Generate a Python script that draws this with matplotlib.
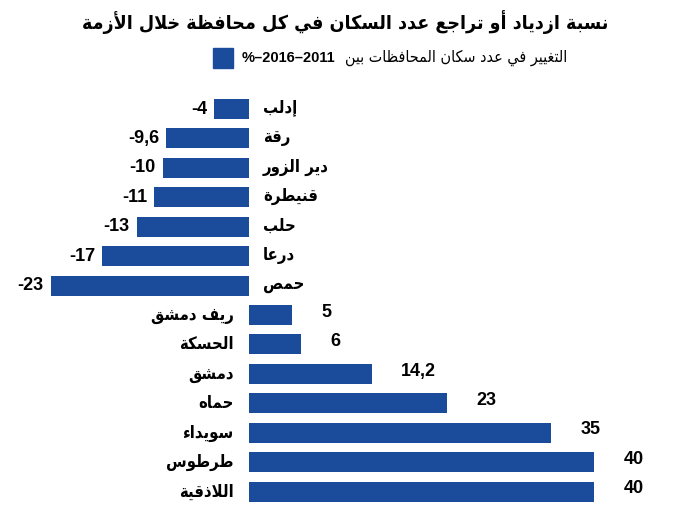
import matplotlib
matplotlib.use('Agg')
import matplotlib.pyplot as plt

# data
provinces = ['إدلب', 'رقة', 'دير الزور', 'قنيطرة', 'حلب', 'درعا', 'حمص',
             'ريف دمشق', 'الحسكة', 'دمشق', 'حماه', 'سويداء', 'طرطوس', 'اللاذقية']
change = [-4, -9.6, -10, -11, -13, -17, -23, 5, 6, 14.2, 23, 35, 40, 40]
value_labels = ['-4', '-9,6', '-10', '-11', '-13', '-17', '-23',
                '5', '6', '14,2', '23', '35', '40', '40']
title = 'نسبة ازدياد أو تراجع عدد السكان في كل محافظة خلال الأزمة'
legend_text = 'التغيير في عدد سكان المحافظات بين'
legend_years = '%–2016–2011'

# minimal arabic shaping (no arabic_reshaper / bidi available)
FOUR = {'ب': 0xFE8F, 'ت': 0xFE95, 'ث': 0xFE99, 'ج': 0xFE9D, 'ح': 0xFEA1,
        'خ': 0xFEA5, 'س': 0xFEB1, 'ش': 0xFEB5, 'ص': 0xFEB9, 'ض': 0xFEBD,
        'ط': 0xFEC1, 'ظ': 0xFEC5, 'ع': 0xFEC9, 'غ': 0xFECD, 'ف': 0xFED1,
        'ق': 0xFED5, 'ك': 0xFED9, 'ل': 0xFEDD, 'م': 0xFEE1, 'ن': 0xFEE5,
        'ه': 0xFEE9, 'ي': 0xFEF1}
TWO = {'ا': 0xFE8D, 'أ': 0xFE83, 'إ': 0xFE87, 'آ': 0xFE81, 'ة': 0xFE93,
       'د': 0xFEA9, 'ذ': 0xFEAB, 'ر': 0xFEAD, 'ز': 0xFEAF, 'و': 0xFEED,
       'ى': 0xFEEF}
ONE = {'ء': 0xFE80}
LAM_ALEF = {'آ': 0xFEF5, 'أ': 0xFEF7, 'إ': 0xFEF9, 'ا': 0xFEFB}


def is_letter(c):
    return c in FOUR or c in TWO or c in ONE


def shape(text):
    # merge lam-alef first
    chars = []
    i = 0
    while i < len(text):
        c = text[i]
        if c == 'ل' and i + 1 < len(text) and text[i + 1] in LAM_ALEF:
            chars.append(('LA', text[i + 1]))
            i += 2
        else:
            chars.append((c, None))
            i += 1

    def is_ar(item):
        return item[0] == 'LA' or is_letter(item[0])

    out = []
    for k, (c, extra) in enumerate(chars):
        prev_join = k > 0 and chars[k - 1][0] in FOUR
        next_ar = k + 1 < len(chars) and is_ar(chars[k + 1])
        if c == 'LA':
            out.append(chr(LAM_ALEF[extra] + (1 if prev_join else 0)))
        elif c in FOUR:
            base = FOUR[c]
            if prev_join and next_ar:
                out.append(chr(base + 3))
            elif prev_join:
                out.append(chr(base + 1))
            elif next_ar:
                out.append(chr(base + 2))
            else:
                out.append(chr(base))
        elif c in TWO:
            out.append(chr(TWO[c] + (1 if prev_join else 0)))
        elif c in ONE:
            out.append(chr(ONE[c]))
        else:
            out.append(c)
    return ''.join(reversed(out))


bar_color = '#1b4b9b'
ar_font = ['DejaVu Sans']
num_font = ['Liberation Sans Narrow', 'Liberation Sans', 'DejaVu Sans']

fig = plt.figure(figsize=(6.84, 5.26), dpi=100)
ax = fig.add_axes([0.00446, 0.0376, 0.9778, 0.783])

ypos = list(range(len(provinces)))
ax.barh(ypos, change, height=0.68, color=bar_color)
ax.set_xlim(-28.5, 49)
ax.set_ylim(13.5, -0.5)
ax.axis('off')

for i, (name, val, lab) in enumerate(zip(provinces, change, value_labels)):
    if val < 0:
        ax.annotate(shape(name), xy=(0, i), xytext=(10, 1), textcoords='offset points',
                    ha='left', va='center', fontsize=12, fontweight='heavy',
                    fontstretch='condensed', family=ar_font)
        ax.annotate(lab, xy=(val, i), xytext=(-5, 0), textcoords='offset points',
                    ha='right', va='center', fontsize=13, fontweight='bold', family=num_font)
    else:
        ax.annotate(shape(name), xy=(0, i), xytext=(-11, 0), textcoords='offset points',
                    ha='right', va='center', fontsize=12, fontweight='heavy',
                    fontstretch='condensed', family=ar_font)
        ax.annotate(lab, xy=(val, i), xytext=(21, 2), textcoords='offset points',
                    ha='left', va='center', fontsize=13, fontweight='bold', family=num_font)

fig.text(345 / 684, 1 - 22 / 526, shape(title), ha='center', va='center',
         fontsize=14, fontweight='heavy', fontstretch='condensed', family=ar_font)

# legend
fig.patches.append(plt.Rectangle((213 / 684, 1 - 68 / 526), 20 / 684, 20 / 526,
                                 transform=fig.transFigure, color=bar_color))
fig.text(242 / 684, 1 - 58 / 526, legend_years, ha='left', va='center',
         fontsize=10.5, fontweight='bold', family=num_font)
fig.text(567 / 684, 1 - 58 / 526, shape(legend_text), ha='right', va='center',
         fontsize=11.5, fontstretch='condensed', family=ar_font)

fig.savefig('out.png', dpi=100)
